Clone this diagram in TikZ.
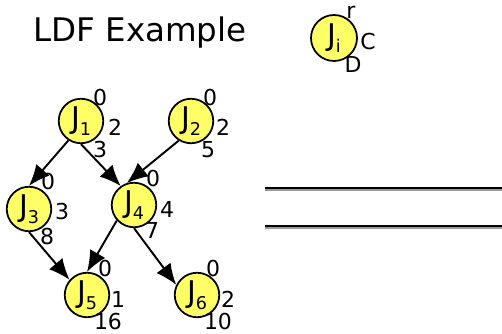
\documentclass[tikz,border=0pt]{standalone}
\usepackage{fontspec}
\setmainfont{DejaVu Sans}
\usepackage{tikz}
\usetikzlibrary{arrows.meta}
\definecolor{jobyellow}{RGB}{255,255,102}
\tikzset{
	job/.style={circle, draw=black, line width=1pt, fill=jobyellow, minimum size=0.89cm, inner sep=0pt, font=\fontsize{17}{17}\selectfont},
	tag/.style={inner sep=0pt, font=\fontsize{12.5}{12.5}\selectfont},
	prec/.style={-{Latex[length=12pt,width=10pt]}, line width=1.1pt},
	rule/.style={line width=1.6pt, black},
	ruleshadow/.style={line width=1pt, black!40, transform canvas={yshift=-1pt}},
}
\newcommand{\jsub}[1]{\raisebox{-0.45ex}{\fontsize{10}{10}\selectfont #1}}

\begin{document}
\begin{tikzpicture}
				\useasboundingbox (0,0) rectangle (10.04,-6.68);
				% title
				\node[font=\fontsize{18.5}{18.5}\selectfont] (title) at (2.8,-0.66) {LDF Example};
				% legend
				\node[job, minimum size=0.92cm] (ji) at (6.68,-0.76) {J\jsub{i}};
				\node[tag] (jir) at (7.02,-0.24) {r};
				\node[tag] (jic) at (7.36,-0.84) {C};
				\node[tag] (jid) at (7.06,-1.30) {D};
				% jobs
				\node[job] (j1) at (1.62,-2.42) {J\jsub{1}};
				\node[job] (j2) at (3.82,-2.42) {J\jsub{2}};
				\node[job] (j3) at (0.58,-4.18) {J\jsub{3}};
				\node[job] (j4) at (2.68,-4.10) {J\jsub{4}};
				\node[job] (j5) at (1.74,-5.90) {J\jsub{5}};
				\node[job] (j6) at (3.94,-5.90) {J\jsub{6}};
				% release, cost, deadline
				\node[tag] (j1r) at (2.00,-1.96) {0};
				\node[tag] (j1c) at (2.30,-2.54) {2};
				\node[tag] (j1d) at (2.00,-3.00) {3};
				\node[tag] (j2r) at (4.20,-1.96) {0};
				\node[tag] (j2c) at (4.46,-2.54) {2};
				\node[tag] (j2d) at (4.16,-3.00) {5};
				\node[tag] (j3r) at (0.96,-3.64) {0};
				\node[tag] (j3c) at (1.24,-4.24) {3};
				\node[tag] (j3d) at (0.94,-4.74) {8};
				\node[tag] (j4r) at (3.06,-3.58) {0};
				\node[tag] (j4c) at (3.34,-4.18) {4};
				\node[tag] (j4d) at (3.04,-4.60) {7};
				\node[tag] (j5r) at (2.10,-5.38) {0};
				\node[tag] (j5c) at (2.36,-5.98) {1};
				\node[tag] (j5d) at (2.16,-6.44) {16};
				\node[tag] (j6r) at (4.26,-5.38) {0};
				\node[tag] (j6c) at (4.56,-5.98) {2};
				\node[tag] (j6d) at (4.36,-6.44) {10};
				% precedence
				\draw[prec] (j1.237) -- (j3.north);
				\draw[prec] (j1.south) -- (j4.125);
				\draw[prec] (j2.238) -- (j4.108);
				\draw[prec] (j3.south) -- (j5.139);
				\draw[prec] (j4.222) -- (j5.north);
				\draw[prec] (j4.south) -- (j6.154);
				% schedule lines
				\coordinate (la) at (5.30,-3.76);
				\coordinate (lb) at (10.04,-3.76);
				\coordinate (ma) at (5.30,-4.52);
				\coordinate (mb) at (10.04,-4.52);
				\draw[ruleshadow] (la) -- (lb);
				\draw[ruleshadow] (ma) -- (mb);
				\draw[rule] (la) -- (lb);
				\draw[rule] (ma) -- (mb);
\end{tikzpicture}
\end{document}
